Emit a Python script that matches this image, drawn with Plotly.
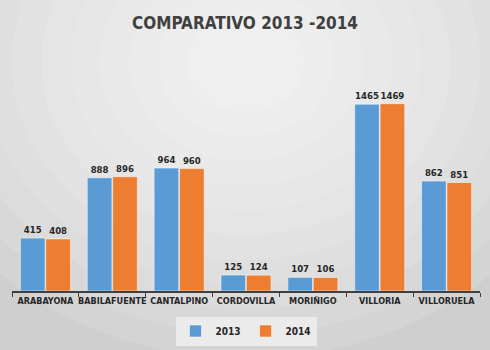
import plotly.graph_objects as go

# Municipios y valores comparados
municipios = ["ARABAYONA", "BABILAFUENTE", "CANTALPINO", "CORDOVILLA",
              "MORIÑIGO", "VILLORIA", "VILLORUELA"]
valores_2013 = [415, 888, 964, 125, 107, 1465, 862]
valores_2014 = [408, 896, 960, 124, 106, 1469, 851]

AZUL = "#5B9BD5"
NARANJA = "#ED7D31"
FUENTE = "DejaVu Sans Condensed, Roboto, sans-serif"
TEXTO = "#262626"

fig = go.Figure()
for nombre, valores, color in [("2013", valores_2013, AZUL),
                               ("2014", valores_2014, NARANJA)]:
    fig.add_trace(go.Bar(
        name=nombre, x=municipios, y=valores,
        marker=dict(color=color, line=dict(color="rgba(255,255,255,0.5)", width=1)),
        text=valores, texttemplate="%{text}", textposition="outside",
        textfont=dict(family=FUENTE, size=9.5, color=TEXTO, weight="bold"),
        constraintext="none",
        cliponaxis=False,
    ))

# Fondo degradado: elipses blancas superpuestas sobre gris
formas = []
pasos = 12
for i in range(pasos):
    f = 1 - i / pasos
    rx, ry = 0.75 * f, 1.45 * f
    cx, cy = 0.5, 1.12
    formas.append(dict(
        type="circle", xref="paper", yref="paper", layer="below",
        x0=cx - rx, x1=cx + rx, y0=cy - ry, y1=cy + ry,
        fillcolor="rgba(255,255,255,0.11)", line=dict(width=0),
    ))

fig.update_layout(
    width=490, height=350,
    margin=dict(l=12, r=10, t=87, b=59, autoexpand=False),
    paper_bgcolor="#cfcfcf",
    plot_bgcolor="rgba(0,0,0,0)",
    shapes=formas,
    barmode="group", bargap=0.24, bargroupgap=0.03,
    title=dict(text="COMPARATIVO 2013 -2014", x=0.5, xanchor="center",
               y=0.935, yanchor="middle",
               font=dict(family=FUENTE, size=17, color="#404040", weight="bold")),
    xaxis=dict(
        showline=True, linecolor="#404040", linewidth=1.5,
        ticks="outside", tickson="boundaries", ticklen=4, tickcolor="#404040",
        tickangle=0, automargin=False,
        tickfont=dict(family=FUENTE, size=9, color=TEXTO, weight="bold"),
        showgrid=False,
    ),
    yaxis=dict(range=[0, 1600], visible=False, showgrid=False),
    legend=dict(orientation="h", x=0.5, xanchor="center", y=-0.125, yanchor="top",
                bgcolor="rgba(240,240,240,0.8)",
                font=dict(family=FUENTE, size=10, color=TEXTO, weight="bold"),
                itemwidth=30, tracegroupgap=0),
    showlegend=True,
)

fig.write_html("out.html")
